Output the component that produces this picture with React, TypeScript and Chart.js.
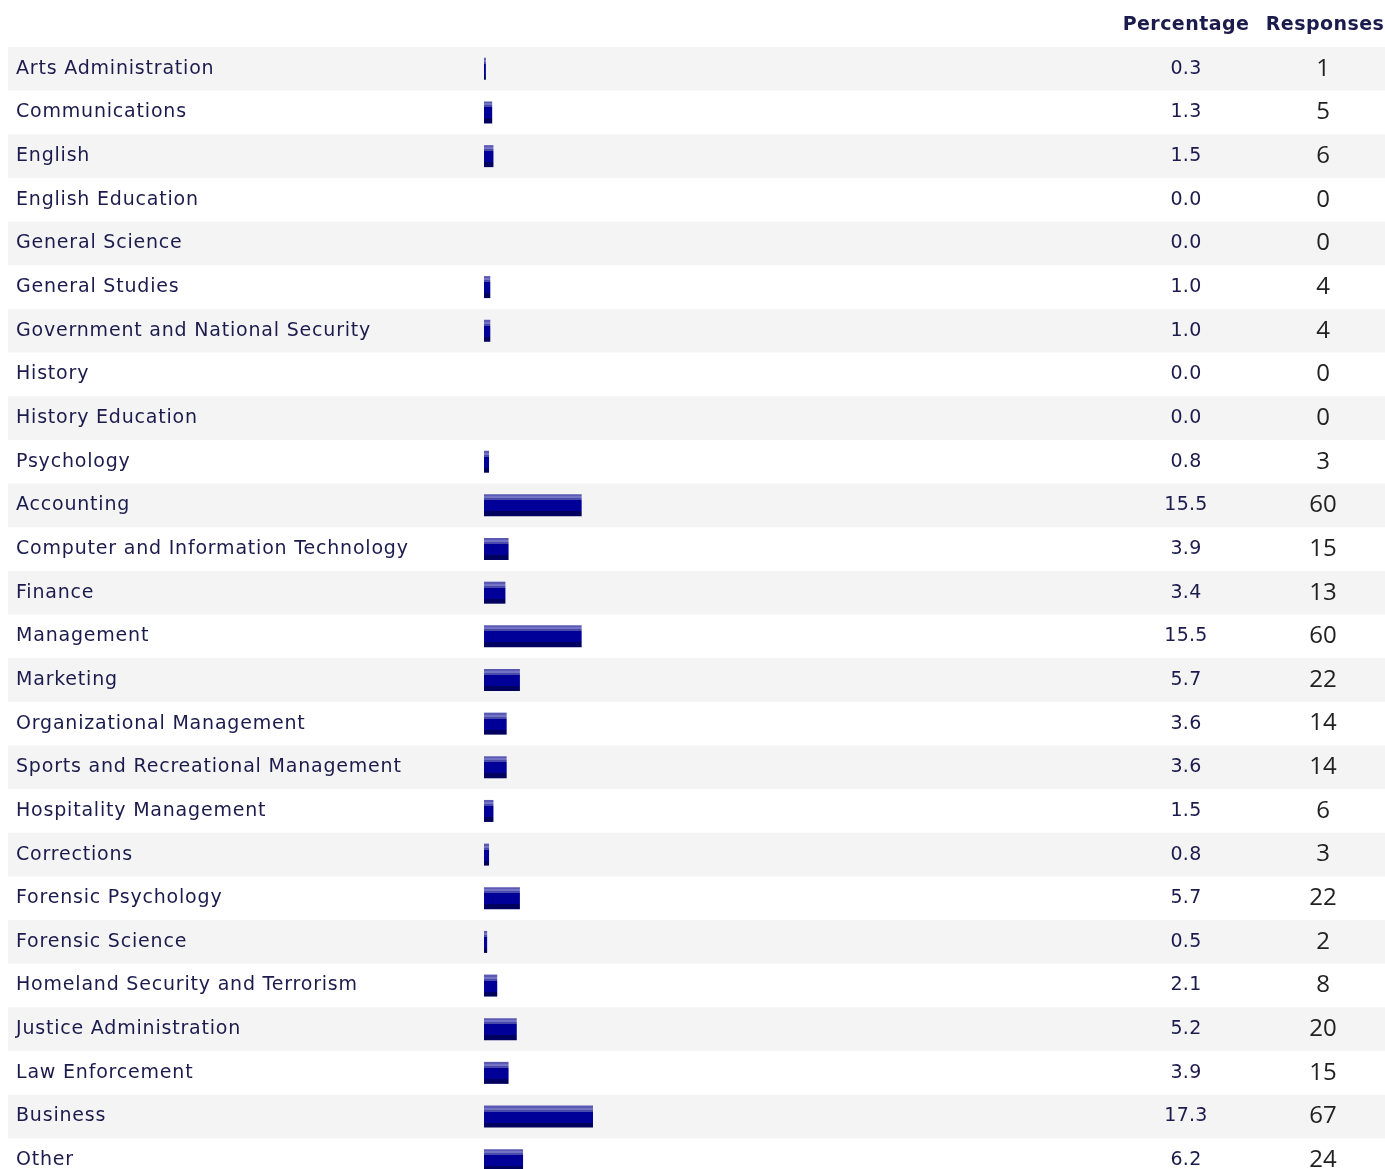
import React, { useEffect, useRef } from "react";
import { Chart, registerables } from "chart.js";

Chart.register(...registerables);

const categories = [
  "Arts Administration",
  "Communications",
  "English",
  "English Education",
  "General Science",
  "General Studies",
  "Government and National Security",
  "History",
  "History Education",
  "Psychology",
  "Accounting",
  "Computer and Information Technology",
  "Finance",
  "Management",
  "Marketing",
  "Organizational Management",
  "Sports and Recreational Management",
  "Hospitality Management",
  "Corrections",
  "Forensic Psychology",
  "Forensic Science",
  "Homeland Security and Terrorism",
  "Justice Administration",
  "Law Enforcement",
  "Business",
  "Other",
];

const percentages = [
  0.3, 1.3, 1.5, 0.0, 0.0, 1.0, 1.0, 0.0, 0.0, 0.8, 15.5, 3.9, 3.4, 15.5, 5.7,
  3.6, 3.6, 1.5, 0.8, 5.7, 0.5, 2.1, 5.2, 3.9, 17.3, 6.2,
];

const responses = [
  1, 5, 6, 0, 0, 4, 4, 0, 0, 3, 60, 15, 13, 60, 22, 14, 14, 6, 3, 22, 2, 8, 20,
  15, 67, 24,
];

const columnHeaders = ["Percentage", "Responses"];

const W = 1377;
const H = 1176;
const TEXT = "#1b1b4d";
const FONT = "'DejaVu Sans', Verdana, sans-serif";

const tablePlugin = {
  id: "tablePlugin",
  beforeDatasetsDraw(chart: any) {
    const { ctx } = chart;
    const n = categories.length;
    const top = chart.chartArea.top;
    const rowH = (chart.chartArea.bottom - top) / n;
    ctx.save();
    for (let i = 0; i < n; i++) {
      if (i % 2 === 0) {
        ctx.fillStyle = "#f4f4f4";
        ctx.fillRect(0, top + i * rowH, 2000, rowH);
      }
    }
    ctx.restore();
  },
  afterDatasetsDraw(chart: any) {
    const { ctx } = chart;
    const y = chart.scales.y;
    ctx.save();
    ctx.textBaseline = "middle";
    ctx.fillStyle = TEXT;
    ctx.font = `bold 19px ${FONT}`;
    (ctx as any).letterSpacing = "0.45px";
    ctx.textAlign = "center";
    ctx.fillText(columnHeaders[0], 1178, 17);
    ctx.fillText(columnHeaders[1], 1317, 17);
    for (let i = 0; i < categories.length; i++) {
      const cy = y.getPixelForValue(i);
      ctx.textAlign = "left";
      ctx.fillStyle = TEXT;
      ctx.font = `19px ${FONT}`;
      (ctx as any).letterSpacing = "0.8px";
      ctx.fillText(categories[i], 8, cy);
      ctx.textAlign = "center";
      ctx.font = `19px ${FONT}`;
      (ctx as any).letterSpacing = "0.3px";
      ctx.fillText(percentages[i].toFixed(1), 1178, cy);
      (ctx as any).letterSpacing = "0px";
      ctx.fillStyle = "#222222";
      ctx.font = `24px 'Open Sans', sans-serif`;
      ctx.fillText(String(responses[i]), 1315, cy);
    }
    ctx.restore();
  },
};

export default function App() {
  const ref = useRef<HTMLCanvasElement | null>(null);
  useEffect(() => {
    document.documentElement.style.overflow = "hidden";
    document.body.style.marginRight = "0px";
    const canvas = ref.current!;
    const chart = new Chart(canvas, {
      type: "bar",
      data: {
        labels: categories,
        datasets: [
          {
            data: percentages,
            barThickness: 22,
            borderWidth: 0,
            inflateAmount: 0,
            backgroundColor: (c: any) => {
              const ch = c.chart;
              const ys = ch.scales && ch.scales.y;
              if (!ys || c.dataIndex === undefined) return "#000099";
              if (!c.raw) return "rgba(0,0,0,0)";
              const cy = ys.getPixelForValue(c.dataIndex);
              if (!Number.isFinite(cy)) return "#000099";
              const t = cy - 11;
              const g = ch.ctx.createLinearGradient(0, t, 0, t + 22);
              g.addColorStop(0, "#5a5ab4");
              g.addColorStop(2 / 22, "#5a5ab4");
              g.addColorStop(2 / 22, "#7474c6");
              g.addColorStop(4 / 22, "#7474c6");
              g.addColorStop(4 / 22, "#4a4aaa");
              g.addColorStop(6 / 22, "#4a4aaa");
              g.addColorStop(6 / 22, "#000099");
              g.addColorStop(17 / 22, "#000099");
              g.addColorStop(17 / 22, "#00005e");
              g.addColorStop(1, "#00005e");
              return g;
            },
          } as any,
        ],
      },
      options: {
        indexAxis: "y",
        responsive: false,
        animation: false,
        layout: { padding: { left: 476, right: 271, top: 39, bottom: 2 } },
        plugins: { legend: { display: false }, tooltip: { enabled: false } },
        scales: {
          x: { display: false, min: 0, max: 100 },
          y: { display: false, offset: true },
        },
      },
      plugins: [tablePlugin],
    });
    return () => chart.destroy();
  }, []);
  return (
    <canvas
      ref={ref}
      width={W}
      height={H}
      style={{ display: "block", width: W, height: H }}
    />
  );
}
